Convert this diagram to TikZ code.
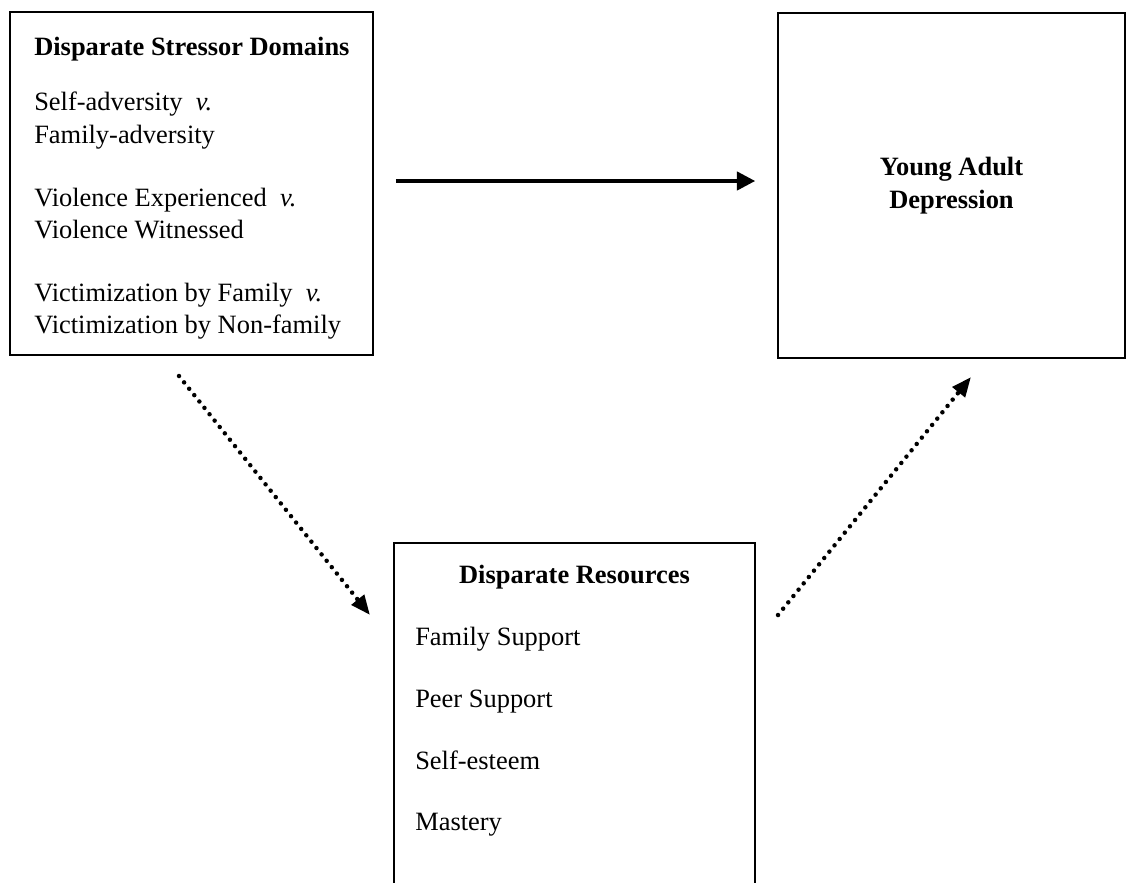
\documentclass[tikz,border=0pt]{standalone}
\usepackage{fontspec}
\setmainfont{Liberation Serif}
\usetikzlibrary{arrows.meta}

\begin{document}
\begin{tikzpicture}[x=0.025cm,y=-0.025cm,
           box_style/.style={rectangle,draw=black,line width=1.1pt,inner sep=0pt},
           title_style/.style={inner sep=0pt,font=\fontsize{18.8}{23.5}\selectfont\bfseries},
           text_style/.style={inner sep=0pt,anchor=base west,font=\fontsize{18.8}{23.5}\selectfont},
           arrow_style/.style={draw=black,line width=2.6pt,-{Triangle[length=13pt,width=13pt]}},
           dotted_style/.style={draw=black,line width=3.2pt,line cap=round,
             dash pattern=on 0pt off 5.8pt,-{Triangle[length=14pt,width=11pt]}}]
            \clip (0,0) rectangle (1128,882);
            % boxes
            \node[box_style,minimum width=9.075cm,minimum height=8.575cm] (stressors) at (191.5, 183.5) {};
            \node[box_style,minimum width=8.675cm,minimum height=8.625cm] (depression) at (951.5, 185.5) {};
            \node[box_style,minimum width=9.025cm,minimum height=9.425cm] (resources) at (574.5, 731.5) {};
            % stressor domains
            \node[title_style,anchor=base west] (s_title) at (34, 55) {Disparate Stressor Domains};
            \node[text_style] (s_1a) at (34, 110) {Self-adversity\ \ \textit{v.}};
            \node[text_style] (s_1b) at (34, 143) {Family-adversity};
            \node[text_style] (s_2a) at (34, 206) {Violence Experienced\ \ \textit{v.}};
            \node[text_style] (s_2b) at (34, 238) {Violence Witnessed};
            \node[text_style] (s_3a) at (34, 301) {Victimization by Family\ \ \textit{v.}};
            \node[text_style] (s_3b) at (34, 333) {Victimization by Non-family};
            % outcome
            \node[title_style,align=center] (d_title) at (depression) {Young Adult\\Depression};
            % resources
            \node[title_style,anchor=base] (r_title) at (574.5, 583) {Disparate Resources};
            \node[text_style] (r_1) at (415, 645) {Family Support};
            \node[text_style] (r_2) at (415, 707) {Peer Support};
            \node[text_style] (r_3) at (415, 769) {Self-esteem};
            \node[text_style] (r_4) at (415, 830) {Mastery};
            % arrows
            \coordinate (arrow_y) at (0, 181);
            \coordinate (p_from) at (179, 376);
            \coordinate (p_to) at (370, 615);
            \coordinate (q_from) at (778, 615);
            \coordinate (q_to) at (971, 377);
            \draw[arrow_style,shorten <=0.55cm,shorten >=0.55cm] (stressors.east |- arrow_y) -- (depression.west |- arrow_y);
            \draw[dotted_style] (p_from) -- (p_to);
            \draw[dotted_style] (q_from) -- (q_to);
        \end{tikzpicture}
\end{document}
